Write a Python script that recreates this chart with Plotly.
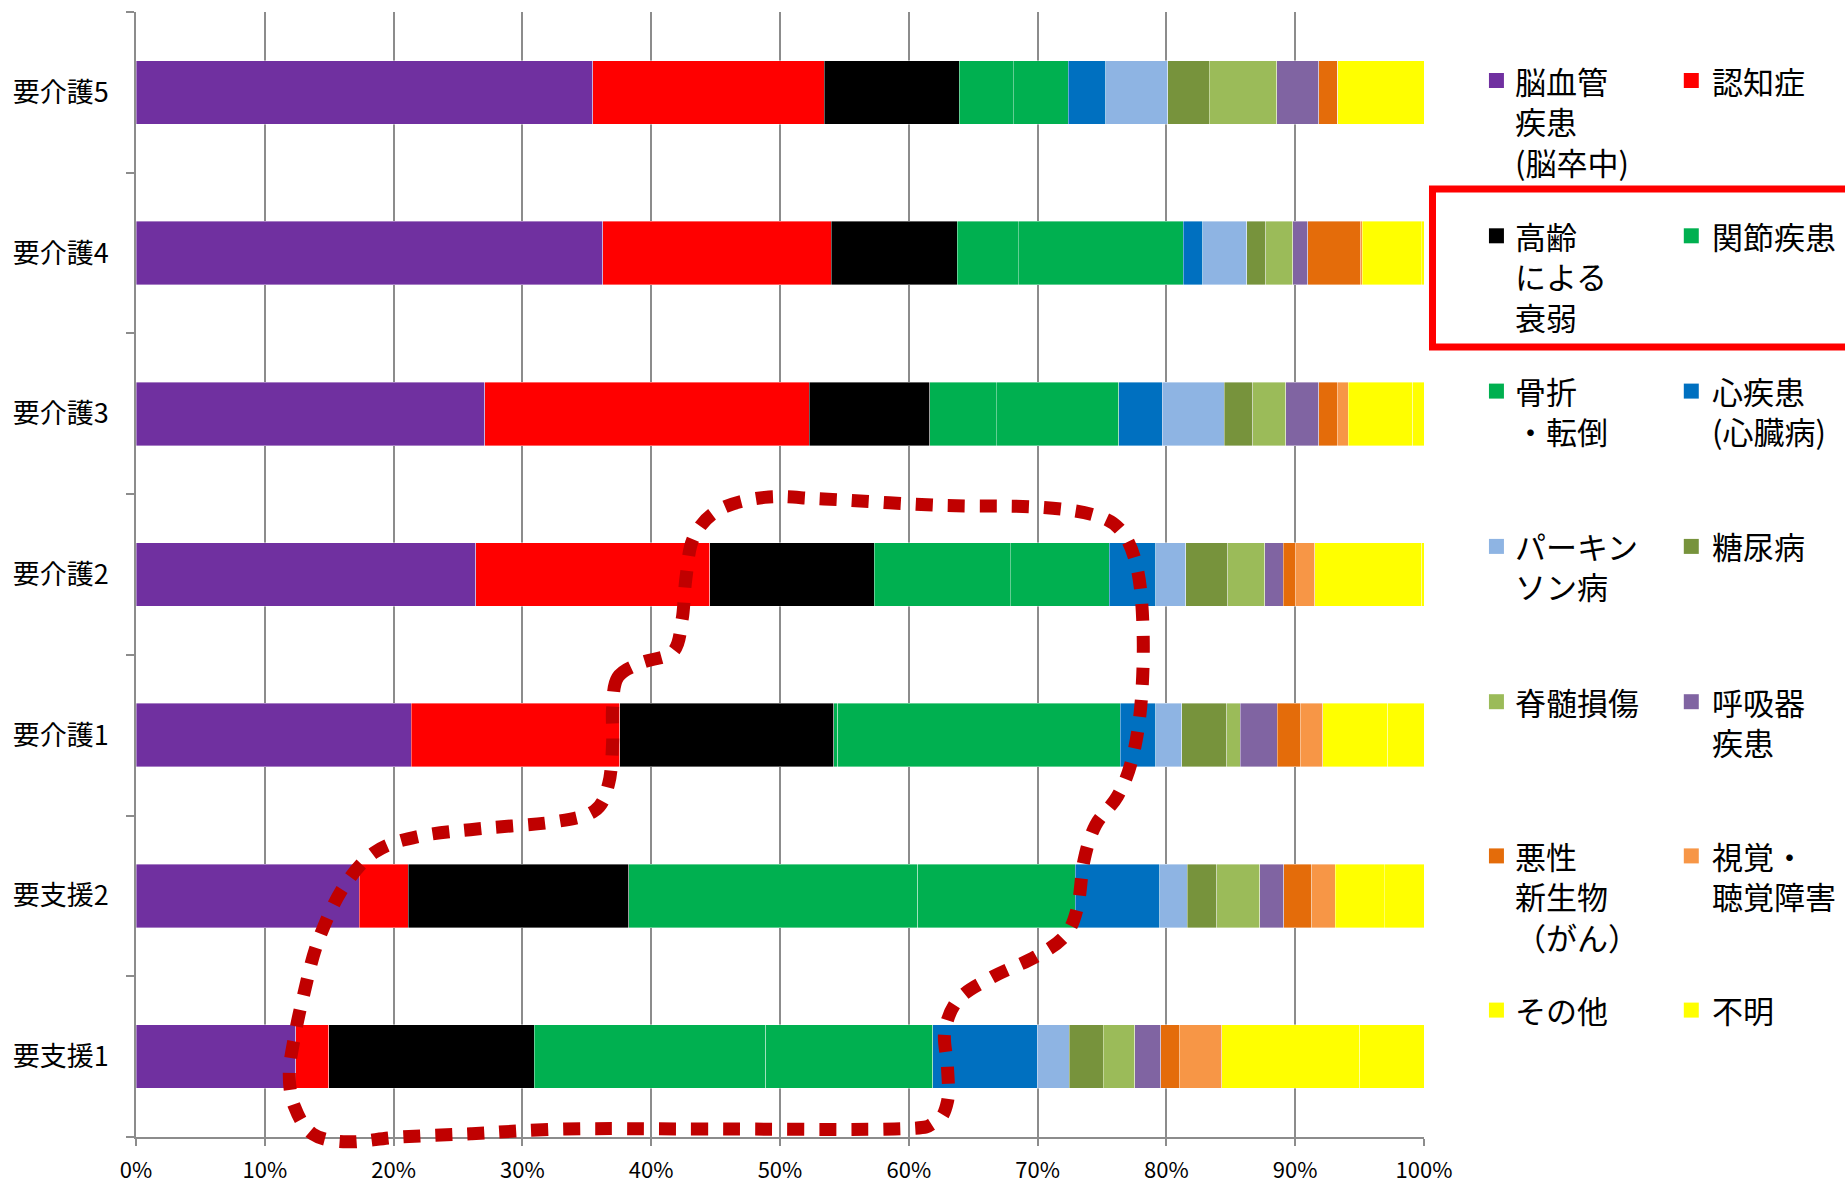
import plotly.graph_objects as go

# ---------------- data ----------------
categories = ["要支援1", "要支援2", "要介護1", "要介護2", "要介護3", "要介護4", "要介護5"]

series_names = ["脳血管疾患(脳卒中)", "認知症", "高齢による衰弱", "関節疾患", "骨折・転倒",
                "心疾患(心臓病)", "パーキンソン病", "糖尿病", "脊髄損傷", "呼吸器疾患",
                "悪性新生物（がん）", "視覚・聴覚障害", "その他", "不明"]

legend_labels = ["脳血管<br>疾患<br>(脳卒中)", "認知症", "高齢<br>による<br>衰弱", "関節疾患",
                 "骨折<br>・転倒", "心疾患<br>(心臓病)", "パーキン<br>ソン病", "糖尿病",
                 "脊髄損傷", "呼吸器<br>疾患", "悪性<br>新生物<br>（がん）", "視覚・<br>聴覚障害",
                 "その他", "不明"]

noukekkan = [12.41, 17.34, 21.37, 26.39, 27.07, 36.25, 35.47]
ninchisho = [2.55, 3.81, 16.20, 18.16, 25.21, 17.72, 17.98]
suijaku = [15.97, 17.10, 16.60, 12.75, 9.35, 9.78, 10.45]
kansetsu = [17.97, 22.43, 0.30, 10.59, 5.15, 4.75, 4.20]
kossetsu = [12.96, 12.24, 21.95, 7.67, 9.52, 12.80, 4.27]
shinshikkan = [8.12, 6.57, 2.77, 3.63, 3.38, 1.54, 2.92]
parkinson = [2.47, 2.11, 2.02, 2.33, 4.82, 3.41, 4.81]
tounyou = [2.64, 2.31, 3.47, 3.25, 2.21, 1.47, 3.23]
sekizui = [2.46, 3.32, 1.05, 2.86, 2.55, 2.08, 5.22]
kokyuuki = [2.01, 1.87, 2.88, 1.44, 2.57, 1.20, 3.28]
akusei = [1.44, 2.18, 1.78, 0.95, 1.42, 4.06, 1.47]
shikaku = [3.30, 1.84, 1.75, 1.51, 0.85, 0.15, 0.00]
sonota = [10.70, 3.78, 5.06, 8.30, 5.04, 4.60, 6.70]
fumei = [5.00, 3.10, 2.80, 0.17, 0.86, 0.20, 0.00]

series_values = [noukekkan, ninchisho, suijaku, kansetsu, kossetsu, shinshikkan, parkinson,
                 tounyou, sekizui, kokyuuki, akusei, shikaku, sonota, fumei]

colors = ["#7030A0", "#FF0000", "#000000", "#00B050", "#00B050", "#0070C0", "#8EB4E3",
          "#77933C", "#9BBB59", "#8064A2", "#E46C0A", "#F79646", "#FFFF00", "#FFFF00"]

x_tickvals = [0, 10, 20, 30, 40, 50, 60, 70, 80, 90, 100]
x_ticktext = ["0%", "10%", "20%", "30%", "40%", "50%", "60%", "70%", "80%", "90%", "100%"]

# highlight outline (percent, category index) — annotation path
outline_x = [37.4, 39.2, 41.7, 42.4, 42.7, 43.3, 45.2, 48.8, 53.4, 62.5, 69.8, 74.4, 76.6, 77.8,
             78.2, 78.0, 77.3, 76.2, 74.5, 73.6, 73.1, 72.1, 69.8, 66.6, 63.9, 62.8, 63.0, 63.0,
             62.0, 58.9, 44.3, 33.3, 26.0, 20.5, 16.4, 13.7, 12.3, 11.9, 12.3, 13.0, 14.1, 16.0,
             18.5, 21.9, 26.9, 32.4, 35.6, 36.7, 37.0, 37.0]
outline_y = [2.36, 2.45, 2.52, 2.72, 2.98, 3.23, 3.40, 3.48, 3.47, 3.43, 3.42, 3.37, 3.26, 3.01,
             2.61, 2.17, 1.84, 1.62, 1.44, 1.22, 0.93, 0.75, 0.62, 0.50, 0.36, 0.16, -0.06, -0.28,
             -0.41, -0.45, -0.45, -0.45, -0.48, -0.50, -0.53, -0.48, -0.31, -0.11, 0.12, 0.38,
             0.71, 1.04, 1.27, 1.37, 1.42, 1.46, 1.53, 1.70, 1.95, 2.17]

# ---------------- layout geometry ----------------
W, H = 1845, 1185
ML, MR, MT, MB = 135.5, 420.5, 12, 48
PW = W - ML - MR
PH = H - MT - MB
FONT = "Noto Sans CJK JP"


def pxx(px):
    return (px - ML) / PW


def pxy(py):
    return (H - MB - py) / PH


fig = go.Figure()
for name, vals, col in zip(series_names, series_values, colors):
    fig.add_trace(go.Bar(
        y=categories, x=vals, name=name, orientation="h",
        marker=dict(color=col, line=dict(color="rgba(255,255,255,0.55)", width=0.7)),
        showlegend=False,
    ))

shapes = []
annotations = []

# closed smooth outline via Catmull-Rom -> cubic bezier (paper coords)
pts = [(x / 100.0, (y + 0.5) / 7.0) for x, y in zip(outline_x, outline_y)]
n = len(pts)
path = "M %.5f,%.5f" % pts[0]
for i in range(n):
    p0 = pts[(i - 1) % n]
    p1 = pts[i]
    p2 = pts[(i + 1) % n]
    p3 = pts[(i + 2) % n]
    c1 = (p1[0] + (p2[0] - p0[0]) / 6, p1[1] + (p2[1] - p0[1]) / 6)
    c2 = (p2[0] - (p3[0] - p1[0]) / 6, p2[1] - (p3[1] - p1[1]) / 6)
    path += " C %.5f,%.5f %.5f,%.5f %.5f,%.5f" % (c1[0], c1[1], c2[0], c2[1], p2[0], p2[1])
path += " Z"
shapes.append(dict(type="path", xref="paper", yref="paper", path=path, layer="above",
                   line=dict(color="#C00000", width=13, dash="17px,15px")))

# custom two-column legend
row_centers = [78.5, 233.8, 389.1, 544.4, 699.7, 853.9, 1008.1]
col_sq = [1497, 1692]
col_tx = [1514, 1711]
LFS = 31
for i, (lab, col) in enumerate(zip(legend_labels, colors)):
    r, c = divmod(i, 2)
    cy = row_centers[r]
    shapes.append(dict(type="rect", xref="paper", yref="paper",
                       x0=pxx(col_sq[c] - 7.5), x1=pxx(col_sq[c] + 7.5),
                       y0=pxy(cy + 9.5), y1=pxy(cy - 5.5),
                       fillcolor=col, line=dict(width=0)))
    annotations.append(dict(xref="paper", yref="paper", x=pxx(col_tx[c]), y=pxy(cy - 0.74 * LFS),
                            xanchor="left", yanchor="top", align="left", showarrow=False,
                            text=lab, font=dict(family=FONT, size=LFS, color="#000000")))

# red highlight box around legend row 2
shapes.append(dict(type="rect", xref="paper", yref="paper",
                   x0=pxx(1433), x1=pxx(1860), y0=pxy(347), y1=pxy(189),
                   line=dict(color="#FF0000", width=7), fillcolor="rgba(0,0,0,0)"))

fig.update_layout(
    width=W, height=H,
    margin=dict(l=ML, r=MR, t=MT, b=MB, pad=0, autoexpand=False),
    barmode="stack", barnorm="percent", bargap=0.605,
    plot_bgcolor="white", paper_bgcolor="white",
    font=dict(family=FONT, color="#000000"),
    shapes=shapes, annotations=annotations,
    xaxis=dict(range=[0, 100], tickvals=x_tickvals, ticktext=x_ticktext, automargin=False,
               showgrid=True, gridcolor="#8C8C8C", gridwidth=1.6,
               showline=True, linecolor="#8C8C8C", linewidth=1.6,
               ticks="outside", ticklen=7, tickcolor="#8C8C8C", tickwidth=1.6,
               ticklabelstandoff=6,
               zeroline=False, tickfont=dict(family=FONT, size=22, color="#000000")),
    yaxis=dict(type="category", categoryorder="array", categoryarray=categories,
               range=[-0.5, 6.5], showgrid=False, zeroline=False, automargin=False,
               showline=True, linecolor="#8C8C8C", linewidth=1.6,
               ticks="outside", tickson="boundaries", ticklen=8, tickcolor="#8C8C8C",
               tickwidth=1.6, ticklabelstandoff=20,
               tickfont=dict(family=FONT, size=27, color="#000000")),
)

fig.write_html("out.html")
